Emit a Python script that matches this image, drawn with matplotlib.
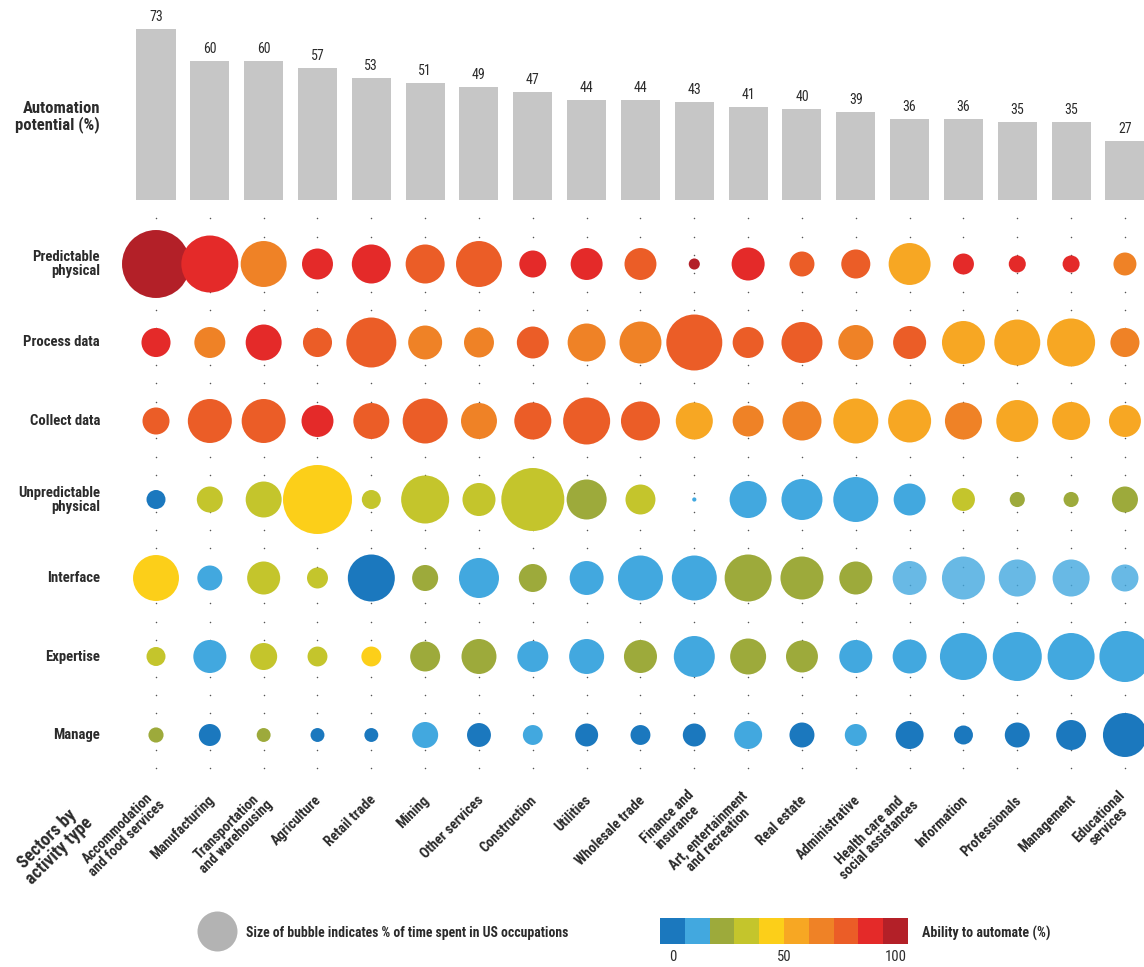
import numpy as np
import matplotlib
matplotlib.use("Agg")
import matplotlib.pyplot as plt
from matplotlib import font_manager as fm
from matplotlib import transforms
from matplotlib.colors import ListedColormap, BoundaryNorm

# ---------------- data ----------------
sectors = ["Accommodation\nand food services", "Manufacturing", "Transportation\nand warehousing",
           "Agriculture", "Retail trade", "Mining", "Other services", "Construction", "Utilities",
           "Wholesale trade", "Finance and\ninsurance", "Art, entertainment\nand recreation",
           "Real estate", "Administrative", "Health care and\nsocial assistances", "Information",
           "Professionals", "Management", "Educational\nservices"]
automation_potential = [73, 60, 60, 57, 53, 51, 49, 47, 44, 44, 43, 41, 40, 39, 36, 36, 35, 35, 27]

activities = ["Predictable\nphysical", "Process data", "Collect data", "Unpredictable\nphysical",
              "Interface", "Expertise", "Manage"]

# % of time spent (bubble size), one list per activity row
time_predictable = [52.5, 36.9, 24.0, 10.9, 17.3, 17.3, 24.0, 8.3, 11.6, 11.6, 1.4, 12.4, 7.1, 9.6, 20.0, 5.0, 3.3, 3.3, 6.0]
time_process = [9.6, 10.9, 14.7, 9.6, 28.4, 13.1, 10.2, 11.6, 16.4, 20.0, 35.6, 10.9, 19.1, 13.9, 12.4, 21.0, 24.0, 26.2, 9.6]
time_collect = [8.3, 22.0, 22.0, 11.6, 14.7, 23.0, 14.7, 15.6, 25.1, 17.3, 15.6, 10.9, 17.3, 23.0, 21.0, 15.6, 20.0, 16.4, 11.6]
time_unpredictable = [4.1, 7.7, 14.7, 54.1, 4.1, 26.2, 12.4, 45.1, 18.2, 10.2, 0.2, 15.6, 19.1, 23.0, 11.6, 6.0, 2.6, 2.6, 7.7]
time_interface = [24.0, 7.1, 12.4, 5.0, 25.1, 7.7, 18.2, 8.9, 13.1, 23.0, 23.0, 25.1, 21.0, 12.4, 13.1, 21.0, 15.6, 15.6, 8.3]
time_expertise = [4.1, 12.4, 8.3, 4.5, 4.5, 10.2, 13.9, 10.9, 13.9, 12.4, 19.1, 14.7, 11.6, 12.4, 13.1, 25.1, 27.3, 25.1, 29.6]
time_manage = [2.6, 5.5, 2.2, 2.2, 2.2, 7.7, 6.5, 4.5, 6.0, 4.5, 6.0, 8.9, 7.1, 5.5, 8.9, 4.1, 7.1, 10.2, 22.0]

# ability to automate (%), one list per activity row
ability_predictable = [95, 85, 65, 85, 85, 75, 75, 85, 85, 75, 95, 85, 75, 75, 55, 85, 85, 85, 65]
ability_process = [85, 65, 85, 75, 75, 65, 65, 75, 65, 65, 75, 75, 75, 65, 75, 55, 55, 55, 65]
ability_collect = [75, 75, 75, 85, 75, 75, 65, 75, 75, 75, 55, 65, 65, 55, 55, 65, 55, 55, 55]
ability_unpredictable = [5, 35, 35, 45, 35, 35, 35, 35, 25, 35, 15, 15, 15, 15, 15, 35, 25, 25, 25]
ability_interface = [45, 15, 35, 35, 5, 25, 15, 25, 15, 15, 15, 25, 25, 25, 15, 15, 15, 15, 15]
ability_expertise = [35, 15, 35, 35, 45, 25, 25, 15, 15, 25, 15, 25, 25, 15, 15, 15, 15, 15, 15]
ability_manage = [25, 5, 25, 5, 5, 15, 5, 15, 5, 5, 5, 15, 5, 15, 5, 5, 5, 5, 5]

time_rows = [time_predictable, time_process, time_collect, time_unpredictable,
             time_interface, time_expertise, time_manage]
ability_rows = [ability_predictable, ability_process, ability_collect, ability_unpredictable,
                ability_interface, ability_expertise, ability_manage]

palette = ["#1b78be", "#42a8df", "#9daa3b", "#c4c52c", "#fccf19",
           "#f7a723", "#ef8226", "#eb5d27", "#e42a29", "#b32028"]
ability_bounds = list(range(0, 101, 10))
legend_ticks = [5, 50, 95]
legend_ticklabels = ["0", "50", "100"]

# ---------------- fonts ----------------
avail = {f.name for f in fm.fontManager.ttflist}
cands = ["Roboto Condensed", "Archivo Narrow", "Liberation Sans Narrow", "DejaVu Sans"]
fam = [f for f in cands if f in avail] or ["DejaVu Sans"]
plt.rcParams["font.family"] = fam
TXT = "#2b2b2b"

W, H = 1144, 967
fig = plt.figure(figsize=(W / 100, H / 100), dpi=100)


def px_axes(x0, y0, x1, y1):
    return fig.add_axes([x0 / W, 1 - y1 / H, (x1 - x0) / W, (y1 - y0) / H])


n = len(sectors)
col0_px, col_step = 156.0, 53.83
xlim = (-col0_px / col_step, (W - col0_px) / col_step)
xs = np.arange(n)

# ---------------- bars ----------------
axb = px_axes(0, 0, W, 200)
axb.bar(xs, automation_potential, width=0.725, color="#c6c6c6", linewidth=0)
axb.set_xlim(*xlim)
base_px, unit_px = 206.8, 2.435
axb.set_ylim((base_px - 200) / unit_px, base_px / unit_px)
axb.axis("off")
for xi, v in zip(xs, automation_potential):
    axb.annotate(str(v), (xi, v), xytext=(0, 8), textcoords="offset pixels",
                 ha="center", va="baseline", fontsize=10, color=TXT)

# ---------------- bubbles ----------------
row0_px, row_step = 264.0, 78.5
top_px, bot_px = 205, 790
axc = px_axes(0, top_px, W, bot_px)
axc.set_xlim(*xlim)
axc.set_ylim((bot_px - row0_px) / row_step, (top_px - row0_px) / row_step)
axc.axis("off")

# dotted guide grid
dot_y = (np.arange(218.3, 772, 18.33) - row0_px) / row_step
gx, gy = np.meshgrid(xs, dot_y)
axc.scatter(gx.ravel(), gy.ravel(), s=1.2, color="#555555", linewidths=0, zorder=1)

cmap = ListedColormap(palette)
norm = BoundaryNorm(ability_bounds, cmap.N)
px_per_pct = 88.0  # d^2 (px^2) per 1% of time
for r, (tv, av) in enumerate(zip(time_rows, ability_rows)):
    d_px = np.sqrt(np.array(tv) * px_per_pct)
    cols = cmap(norm(np.array(av)))
    if activities[r] == "Interface":
        cols[14:, 3] = 0.8
    axc.scatter(xs, np.full(n, r), s=(d_px * 0.72) ** 2, c=cols, linewidths=0, zorder=2)

blend = transforms.blended_transform_factory(fig.transFigure, axc.transData)
for r, lab in enumerate(activities):
    fig.text(100 / W, r, lab, transform=blend, ha="right", va="center", fontsize=10.6,
             fontweight="semibold", color=TXT, multialignment="right", linespacing=1.0)

fig.text(100 / W, 1 - 117 / H, "Automation\npotential (%)", ha="right", va="center",
         fontsize=12, fontweight="bold", color=TXT, multialignment="right", linespacing=0.95)

# sector labels
blend_x = transforms.blended_transform_factory(axb.transData, fig.transFigure)
for xi, lab in zip(xs, sectors):
    fig.text(xi + 0.04, 1 - 798 / H, lab, transform=blend_x, rotation=45, rotation_mode="anchor",
             ha="right", va="center", multialignment="center", fontsize=10.3,
             fontweight="semibold", color=TXT, linespacing=1.0)

fig.text(53 / W, 1 - 845 / H, "Sectors by\nactivity type", rotation=45, ha="center", va="center",
         fontsize=12.8, fontweight="bold", color=TXT, multialignment="center", linespacing=0.95)

# ---------------- legends ----------------
axl = fig.add_axes([0, 0, 1, 1], zorder=-1)
axl.set_xlim(0, W)
axl.set_ylim(H, 0)
axl.axis("off")
axl.scatter([217], [931], s=(40 * 0.72) ** 2, color="#b3b3b3", linewidths=0)
axl.text(246, 933, "Size of bubble indicates % of time spent in US occupations", ha="left",
         va="center", fontsize=9.9, fontweight="semibold", color=TXT)
axl.text(922, 933, "Ability to automate (%)", ha="left", va="center", fontsize=10.1,
         fontweight="semibold", color=TXT)

cax = px_axes(660, 918, 908, 944)
seg_mid = (np.array(ability_bounds[:-1]) + np.array(ability_bounds[1:])) / 2
cax.imshow(seg_mid[None, :], cmap=cmap, norm=norm, aspect="auto",
           extent=(ability_bounds[0], ability_bounds[-1], 0, 1), interpolation="nearest")
cax.set_xlim(ability_bounds[0], ability_bounds[-1])
cax.set_yticks([])
cax.set_xticks(legend_ticks)
cax.set_xticklabels(legend_ticklabels)
for s in cax.spines.values():
    s.set_visible(False)
cax.tick_params(length=0, pad=4, labelsize=10.5, labelcolor=TXT)

fig.savefig("out.png", dpi=100)
